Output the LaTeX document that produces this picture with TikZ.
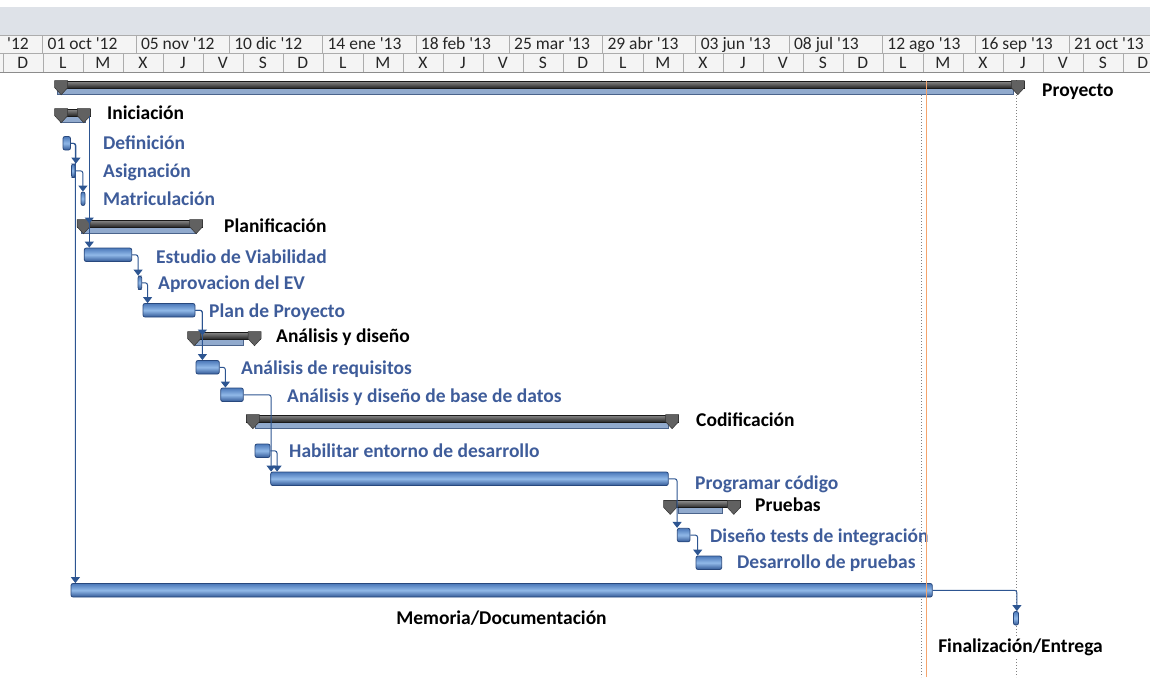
\documentclass[tikz,border=0pt]{standalone}
\usepackage{fontspec}
\setmainfont{Carlito}
\usetikzlibrary{arrows.meta}
\definecolor{gris}{RGB}{222,226,232}
\definecolor{celda}{RGB}{244,244,244}
\definecolor{bordecelda}{RGB}{172,172,172}
\definecolor{azultxt}{RGB}{62,92,154}
\definecolor{azulenlace}{RGB}{45,85,145}
\definecolor{bordebarra}{RGB}{40,72,125}
\definecolor{barraA}{RGB}{75,120,185}
\definecolor{barraB}{RGB}{145,185,232}
\definecolor{barraC}{RGB}{50,88,150}
\definecolor{avancecol}{RGB}{145,170,205}
\definecolor{bordeavance}{RGB}{75,100,140}
\definecolor{hoy}{RGB}{245,165,110}
\newcommand{\ap}{\textquotesingle}
\newcommand{\tarea}[8][]{%
  \node[barra, minimum width={#4-#3}] (#2) at ({(#3+#4)/2},{#5+6.75}) {};
  \node[etiqueta, #1] (#2-txt) at (#6,#7) {#8};
}
\newcommand{\resumen}[9]{%
  \filldraw[avance] (#5,{#4+7}) rectangle (#6,{#4+13});
  \node[resum, minimum width={#3-#2}] (#1) at ({(#2+#3)/2},{#4+3.5}) {};
  \filldraw[marca] (#1.north west) -- ++(13,0) -- ++(0,7) -- ++(-6.5,7) -- ++(-6.5,-7) -- cycle;
  \filldraw[marca] (#1.north east) -- ++(-13,0) -- ++(0,7) -- ++(6.5,7) -- ++(6.5,-7) -- cycle;
  \node[etiqueta, text=black] (#1-txt) at (#7,#8) {#9};
}

\begin{document}
\begin{tikzpicture}[x=1pt, y=-1pt,
    cabecera/.style={inner sep=0pt, text=black!85, font=\fontsize{17.5}{20}\selectfont},
    etiqueta/.style={anchor=base west, inner sep=0pt, text=azultxt, font=\bfseries\fontsize{19.5}{22}\selectfont},
    barra/.style={draw=bordebarra, line width=0.8pt, rounded corners=2pt, top color=barraA, bottom color=barraC, middle color=barraB, inner sep=0pt, minimum height=13.5pt},
    resum/.style={draw=black!90, line width=0.6pt, top color=black!45, bottom color=black!85, inner sep=0pt, minimum height=7pt},
    marca/.style={fill=black!62, draw=black!80, line width=0.5pt},
    avance/.style={fill=avancecol, draw=bordeavance, line width=0.6pt},
    enlace/.style={draw=azulenlace, line width=1pt, rounded corners=2.5pt, -{Triangle[width=9pt,length=6pt]}},
    guia/.style={draw=black!50, line width=1pt, dotted}]
  \useasboundingbox (0,0) rectangle (1150,677);
  \clip (0,0) rectangle (1150,677);
  \fill[gris] (0,7) rectangle (1150,35);
  \fill[celda] (0,35) rectangle (1150,72);
  \draw[bordecelda] (0,35.5) -- (1150,35.5) (0,53.5) -- (1150,53.5);
  \draw[black!45, line width=0.8pt] (0,72) -- (1150,72);
  \node[cabecera, anchor=base west] (f-1) at (7,49.5) {\ap12};
  \foreach \f [count=\i from 0] in {01 oct \ap12, 05 nov \ap12, 10 dic \ap12, 14 ene \ap13, 18 feb \ap13, 25 mar \ap13, 29 abr \ap13, 03 jun \ap13, 08 jul \ap13, 12 ago \ap13, 16 sep \ap13, 21 oct \ap13} {
    \draw[bordecelda] ({42.5+93.3*\i},35.5) -- ({42.5+93.3*\i},53.5);
    \node[cabecera, anchor=base west] (f\i) at ({42.5+93.3*\i+5},49.5) {\f};
  }
  \foreach \d [count=\i from -1] in {D,L,M,X,J,V,S,D,L,M,X,J,V,S,D,L,M,X,J,V,S,D,L,M,X,J,V,S,D} {
    \draw[bordecelda] ({42.8+40*\i},53.5) -- ({42.8+40*\i},72);
    \node[cabecera, anchor=base] (d\i) at ({62.8+40*\i},68.8) {\d};
  }
  \draw[guia] (921.7,80) -- (921.7,677);
  \draw[guia] (1016.7,80) -- (1016.7,677);

  \resumen{proy}{55}{1024}{81}{57}{1013}{1042}{96.5}{Proyecto}
  \resumen{inic}{55}{90}{109}{60}{85}{107}{119.5}{Iniciación}
  \tarea{defin}{63}{70.5}{136.5}{103}{149.5}{Definición}
  \tarea{asig}{71.5}{75}{164}{103}{177.5}{Asignación}
  \tarea{matri}{81}{85}{192}{103}{205.5}{Matriculación}
  \resumen{planif}{77.3}{202.3}{220}{81.7}{196.7}{224}{232.5}{Planificación}
  \tarea{estudio}{84.3}{131.7}{248}{156}{263.5}{Estudio de Viabilidad}
  \tarea{aprov}{138}{141.7}{276}{158}{289.5}{Aprovacion del EV}
  \tarea{plan}{143}{195}{303.5}{209}{317.5}{Plan de Proyecto}
  \resumen{anal}{188}{260.7}{332}{195}{243}{276}{342.5}{Análisis y diseño}
  \tarea{areq}{196}{219.3}{360.5}{241}{374.5}{Análisis de requisitos}
  \tarea{abd}{220.7}{243.3}{388}{287}{402.5}{Análisis y diseño de base de datos}
  \resumen{codif}{246.7}{678.3}{415}{255}{668}{696}{426.5}{Codificación}
  \tarea{habil}{255}{270}{444}{289}{457.5}{Habilitar entorno de desarrollo}
  \tarea{progr}{270.7}{668.3}{472}{695}{489.5}{Programar código}
  \resumen{prueb}{664}{740}{500.7}{678}{722}{755}{511.5}{Pruebas}
  \tarea{dtest}{677.3}{690}{528.3}{710}{542.5}{Diseño tests de integración}
  \tarea{dprue}{696}{721.7}{556}{737}{568.5}{Desarrollo de pruebas}
  \tarea[anchor=base, text=black]{memo}{71}{932.3}{583.5}{501.5}{624.5}{Memoria/Documentación}
  \tarea[anchor=base, text=black, fill=white, inner sep=1pt]{final}{1013.5}{1018.5}{611.5}{1020.5}{652.5}{Finalización/Entrega}

  \draw[enlace] ([xshift=-1pt]inic.south east) -- ([xshift=-1pt]inic.south east |- planif.center);
  \draw[enlace] ([xshift=-1pt]inic.south east) -- ([xshift=-1pt]inic.south east |- estudio.north);
  \draw[enlace] (defin.east) -| ([xshift=4.5pt]defin.east |- memo.north);
  \draw[enlace] (defin.east) -| ([xshift=5pt]defin.east |- asig.north);
  \draw[enlace] (asig.east) -| ([xshift=7.5pt]asig.east |- matri.north);
  \draw[enlace] (estudio.east) -| ([xshift=6pt]estudio.east |- aprov.north);
  \draw[enlace] (aprov.east) -| ([xshift=5.5pt]aprov.east |- plan.north);
  \draw[enlace] (plan.east) -| ([xshift=7pt]plan.east |- anal.center);
  \draw[enlace] (plan.east) -| ([xshift=7pt]plan.east |- areq.north);
  \draw[enlace] (areq.east) -| ([xshift=5.7pt]areq.east |- abd.north);
  \draw[enlace] (abd.east) -| ([xshift=27.4pt]abd.east |- progr.north);
  \draw[enlace] (habil.east) -| ([xshift=6.7pt]habil.east |- progr.north);
  \draw[enlace] (progr.east) -| ([xshift=8.4pt]progr.east |- dtest.north);
  \draw[enlace] (dtest.east) -| ([xshift=7.3pt]dtest.east |- dprue.north);
  \draw[enlace] (memo.east) -| ([xshift=84.2pt]memo.east |- final.north);

  \draw[hoy, line width=1.5pt] (926.7,81) -- (926.7,677);
\end{tikzpicture}
\end{document}
